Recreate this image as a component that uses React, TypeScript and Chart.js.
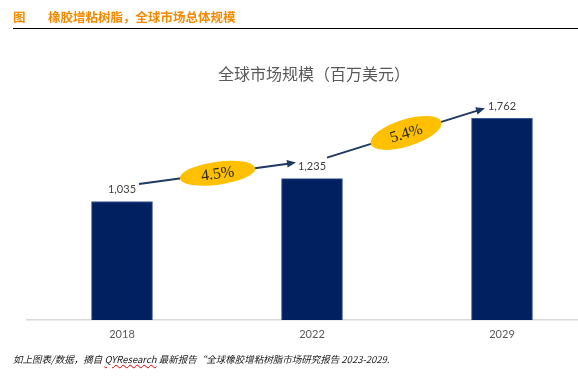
import React, { useEffect, useRef } from "react";
import { Chart, registerables } from "chart.js";

Chart.register(...registerables);

const categories = ["2018", "2022", "2029"];
const marketValues = [1035, 1235, 1762];
const growthLabels = ["4.5%", "5.4%"];

const headerPrefix = "图";
const headerTitle = "橡胶增粘树脂，全球市场总体规模";
const chartTitle = "全球市场规模（百万美元）";

// style constants (offsets relative to value labels)
const LABEL_RAISE = 12;
const ARROW_START = [[17, -5.5], [15, -9]];
const ARROW_END = [[-16, -4], [-17, 2]];
const ELLIPSE_RADII = [[38, 11.5], [37, 13.5]];

const overlayPlugin = {
  id: "overlay",
  afterDatasetsDraw(chart: any) {
    const ctx = chart.ctx;
    const bars = chart.getDatasetMeta(0).data;
    ctx.save();
    // value labels
    ctx.font = '11px Lato, "Liberation Sans", sans-serif';
    ctx.fillStyle = "#404040";
    ctx.textAlign = "center";
    ctx.textBaseline = "middle";
    const labelPos = bars.map((b: any, i: number) => {
      const y = b.y - LABEL_RAISE;
      ctx.fillText(marketValues[i].toLocaleString("en-US"), b.x, y);
      return { x: b.x, y };
    });
    // arrows with growth ellipses
    for (let i = 0; i < labelPos.length - 1; i++) {
      const x1 = labelPos[i].x + ARROW_START[i][0];
      const y1 = labelPos[i].y + ARROW_START[i][1];
      const x2 = labelPos[i + 1].x + ARROW_END[i][0];
      const y2 = labelPos[i + 1].y + ARROW_END[i][1];
      const ang = Math.atan2(y2 - y1, x2 - x1);
      const head = 9;
      const hw = 3.8;
      ctx.strokeStyle = "#1f3864";
      ctx.fillStyle = "#1f3864";
      ctx.lineWidth = 2;
      ctx.beginPath();
      ctx.moveTo(x1, y1);
      ctx.lineTo(x2 - Math.cos(ang) * (head - 1), y2 - Math.sin(ang) * (head - 1));
      ctx.stroke();
      ctx.beginPath();
      ctx.moveTo(x2, y2);
      ctx.lineTo(
        x2 - Math.cos(ang) * head + Math.sin(ang) * hw,
        y2 - Math.sin(ang) * head - Math.cos(ang) * hw
      );
      ctx.lineTo(
        x2 - Math.cos(ang) * head - Math.sin(ang) * hw,
        y2 - Math.sin(ang) * head + Math.cos(ang) * hw
      );
      ctx.closePath();
      ctx.fill();
      // ellipse
      const cx = (x1 + x2) / 2;
      const cy = (y1 + y2) / 2;
      ctx.save();
      ctx.translate(cx, cy);
      ctx.rotate(ang);
      ctx.fillStyle = "#ffc000";
      ctx.beginPath();
      ctx.ellipse(0, 0, ELLIPSE_RADII[i][0], ELLIPSE_RADII[i][1], 0, 0, Math.PI * 2);
      ctx.fill();
      ctx.fillStyle = "#262626";
      ctx.font = '16px "Liberation Serif", "DejaVu Serif", serif';
      ctx.textAlign = "center";
      ctx.textBaseline = "middle";
      ctx.fillText(growthLabels[i], 0, 1);
      ctx.restore();
    }
    ctx.restore();
  },
};

export default function App() {
  const canvasRef = useRef<HTMLCanvasElement | null>(null);

  useEffect(() => {
    document.body.style.margin = "0";
    const canvas = canvasRef.current;
    if (!canvas) return;
    const chart = new Chart(canvas, {
      type: "bar",
      data: {
        datasets: [
          {
            data: marketValues.map((v, i) => ({ x: i, y: v })),
            backgroundColor: "#002060",
            borderColor: "#3b5a96",
            borderWidth: 1,
            barThickness: 61,
          },
        ],
      },
      options: {
        responsive: false,
        animation: false,
        devicePixelRatio: 1,
        layout: { padding: { top: 91, left: 27, right: 0, bottom: 33 } },
        plugins: {
          legend: { display: false },
          title: { display: false },
          tooltip: { enabled: false },
        },
        scales: {
          x: {
            type: "linear",
            offset: false,
            min: -0.5,
            max: 2.4,
            afterBuildTicks: (scale: any) => {
              scale.ticks = categories.map((_, i) => ({ value: i }));
            },
            afterFit: (scale: any) => {
              scale.height = 30;
            },
            grid: { display: false, drawTicks: false, offset: false },
            border: { display: true, color: "#d9d9d9", width: 1.5 },
            ticks: {
              padding: 8,
              color: "#595959",
              font: { family: 'Lato, "Liberation Sans", sans-serif', size: 11 },
              callback: (v: any) => categories[v] ?? "",
              maxRotation: 0,
              autoSkip: false,
            },
          },
          y: {
            display: false,
            min: 0,
            max: 2000,
          },
        },
      },
      plugins: [overlayPlugin],
    } as any);
    return () => chart.destroy();
  }, []);

  return (
    <div
      style={{
        position: "relative",
        width: 578,
        height: 383,
        background: "#fff",
        overflow: "hidden",
      }}
    >
      <canvas
        ref={canvasRef}
        width={578}
        height={383}
        style={{ position: "absolute", left: 0, top: 0, width: 578, height: 383 }}
      />
      <div
        style={{
          position: "absolute",
          left: 13,
          top: 8,
          fontFamily: '"Noto Sans CJK SC", sans-serif',
          fontWeight: 700,
          fontSize: 12.5,
          lineHeight: "18px",
          color: "#f28a00",
          whiteSpace: "nowrap",
        }}
      >
        <span>{headerPrefix}</span>
        <span style={{ position: "absolute", left: 35 }}>{headerTitle}</span>
      </div>
      <div
        style={{
          position: "absolute",
          left: 13,
          top: 28,
          width: 565,
          height: 0,
          borderTop: "1.5px solid #000",
        }}
      />
      <div
        style={{
          position: "absolute",
          left: 214,
          width: 200,
          top: 62,
          textAlign: "center",
          fontFamily: '"Noto Sans CJK SC", sans-serif',
          fontSize: 16,
          lineHeight: "22px",
          color: "#595959",
          whiteSpace: "nowrap",
        }}
      >
        {chartTitle}
      </div>
      <div
        style={{
          position: "absolute",
          left: 13,
          top: 351,
          fontFamily: '"Noto Sans CJK SC", sans-serif',
          fontStyle: "italic",
          fontSize: 9.5,
          lineHeight: "16px",
          color: "#1a1a1a",
          whiteSpace: "nowrap",
        }}
      >
        如上图表/数据，摘自{" "}
        <span style={{ textDecoration: "underline wavy #e00000", textDecorationThickness: 1 }}>
          QYResearch
        </span>{" "}
        最新报告“全球橡胶增粘树脂市场研究报告 2023-2029.
      </div>
    </div>
  );
}
